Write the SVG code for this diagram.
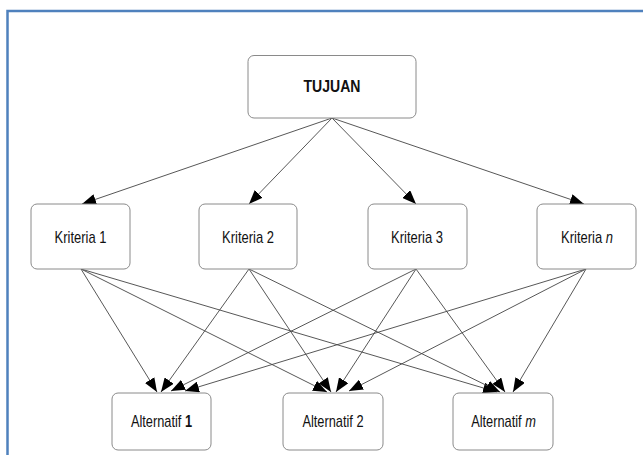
<svg xmlns="http://www.w3.org/2000/svg" width="643" height="455" viewBox="0 0 643 455">
<style>
.box{fill:#fff;stroke:#8a8a8a;stroke-width:1}
.lbl{font-family:"Liberation Sans",Arial,sans-serif;font-size:16px;fill:#111;text-anchor:middle}
.edge{stroke:#444;stroke-width:0.9;fill:none;marker-end:url(#ah)}
</style>
<defs>
<marker id="ah" viewBox="0 0 14 11" refX="14" refY="5.5" markerWidth="14" markerHeight="11" markerUnits="userSpaceOnUse" orient="auto">
<path d="M0,0 L14,5.5 L0,11 z" fill="#000"/>
</marker>
</defs>
<rect x="0" y="0" width="643" height="455" fill="#fff"/>
<rect x="7.5" y="11" width="700" height="500" fill="none" stroke="#4f81bd" stroke-width="2.5"/>
<g id="connectors">
<line class="edge" x1="332" y1="118" x2="82" y2="204"/>
<line class="edge" x1="332" y1="118" x2="249" y2="204"/>
<line class="edge" x1="332" y1="118" x2="416" y2="204"/>
<line class="edge" x1="332" y1="118" x2="584" y2="204"/>
<line class="edge" x1="81" y1="269" x2="157" y2="392"/>
<line class="edge" x1="81" y1="269" x2="327" y2="392"/>
<line class="edge" x1="81" y1="269" x2="497" y2="392"/>
<line class="edge" x1="249" y1="269" x2="161" y2="392"/>
<line class="edge" x1="249" y1="269" x2="331" y2="392"/>
<line class="edge" x1="249" y1="269" x2="500" y2="392"/>
<line class="edge" x1="416" y1="269" x2="171" y2="391"/>
<line class="edge" x1="416" y1="269" x2="336" y2="392"/>
<line class="edge" x1="416" y1="269" x2="505" y2="392"/>
<line class="edge" x1="586" y1="269" x2="185" y2="391"/>
<line class="edge" x1="586" y1="269" x2="349" y2="391"/>
<line class="edge" x1="586" y1="269" x2="513" y2="392"/>
</g>
<g id="tujuan">
<rect class="box" x="248" y="55.5" width="168" height="62.5" rx="6"/>
<text class="lbl" transform="translate(332,92) scale(0.88,1)" font-size="17" font-weight="bold">TUJUAN</text>
</g>
<g id="kriteria1">
<rect class="box" x="31" y="204" width="99" height="65" rx="6"/>
<text class="lbl" transform="translate(80.5,243) scale(0.81,1)">Kriteria 1</text>
</g>
<g id="kriteria2">
<rect class="box" x="199" y="204" width="98" height="65" rx="6"/>
<text class="lbl" transform="translate(248,243) scale(0.81,1)">Kriteria 2</text>
</g>
<g id="kriteria3">
<rect class="box" x="368" y="204" width="99" height="65" rx="6"/>
<text class="lbl" transform="translate(417,243) scale(0.81,1)">Kriteria 3</text>
</g>
<g id="kriterian">
<rect class="box" x="537" y="204" width="99" height="65" rx="6"/>
<text class="lbl" transform="translate(587,243) scale(0.81,1)">Kriteria <tspan font-style="italic">n</tspan></text>
</g>
<g id="alternatif1">
<rect class="box" x="112" y="393" width="99" height="57" rx="6"/>
<text class="lbl" transform="translate(161.5,427) scale(0.8,1)">Alternatif <tspan font-weight="bold">1</tspan></text>
</g>
<g id="alternatif2">
<rect class="box" x="283" y="393" width="100" height="57" rx="6"/>
<text class="lbl" transform="translate(333,427) scale(0.8,1)">Alternatif 2</text>
</g>
<g id="alternatifm">
<rect class="box" x="453" y="393" width="100" height="57" rx="6"/>
<text class="lbl" transform="translate(503.5,427) scale(0.8,1)">Alternatif <tspan font-style="italic">m</tspan></text>
</g>
</svg>
